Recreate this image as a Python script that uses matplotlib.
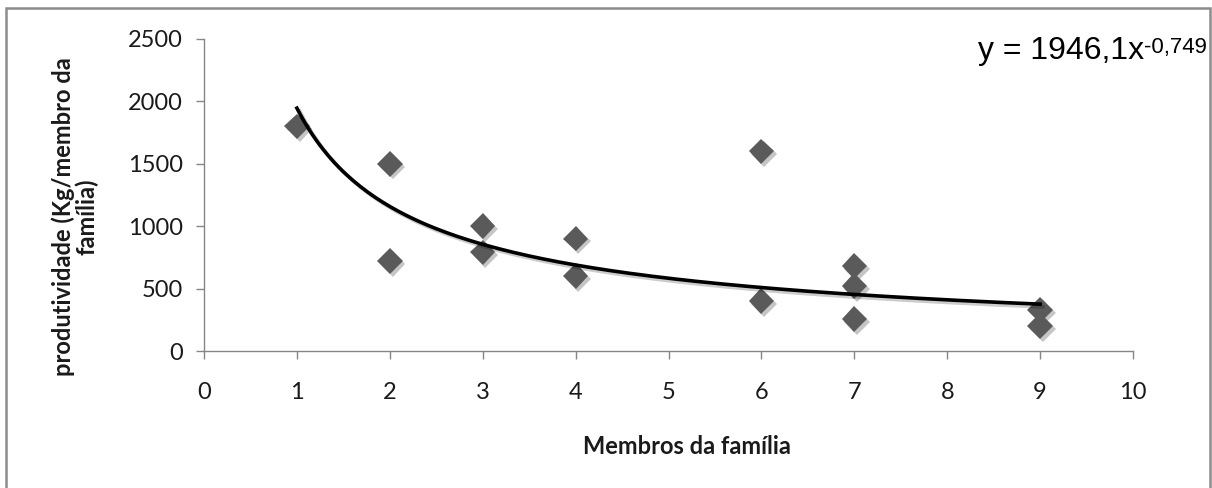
import numpy as np
import matplotlib.pyplot as plt
import matplotlib.patheffects as pe
from matplotlib.patches import Rectangle

# data
membros = [1, 2, 2, 3, 3, 4, 4, 6, 6, 7, 7, 7, 9, 9]
produtividade = [1800, 1500, 720, 1000, 790, 900, 600, 1600, 400, 680, 520, 255, 330, 200]

# power trendline shown on the chart: y = 1946,1 x^-0,749
coef_a = 1946.1
coef_b = -0.749
eq_main = "y = 1946,1x"
eq_sup = "-0,749"

x_ticks = [0, 1, 2, 3, 4, 5, 6, 7, 8, 9, 10]
y_ticks = [0, 500, 1000, 1500, 2000, 2500]

plt.rcParams['font.family'] = ['Lato', 'DejaVu Sans']

fig = plt.figure(figsize=(12.12, 4.88), dpi=100)
ax = fig.add_axes([204 / 1212, 137 / 488, 929 / 1212, 312 / 488])

# outer chart frame (bottom edge is cut off in the original)
fig.patches.append(Rectangle((6 / 1212, -0.05), 1204 / 1212, 1.05 - 8 / 488,
                             transform=fig.transFigure, fill=False,
                             edgecolor='#8c8c8c', linewidth=1.8))

shadow = [pe.SimplePatchShadow(offset=(2, -2), alpha=0.25), pe.Normal()]
ax.plot(membros, produtividade, linestyle='none', marker='D', markersize=13,
        color='#5a5a5a', markeredgewidth=0, path_effects=shadow, zorder=2)

xt = np.linspace(min(membros), max(membros), 200)
ax.plot(xt, coef_a * xt ** coef_b, color='black', linewidth=2.6,
        path_effects=[pe.SimpleLineShadow(offset=(2, -2), alpha=0.2), pe.Normal()],
        zorder=3)

ax.set_xlim(0, 10)
ax.set_ylim(0, 2500)
ax.set_xticks(x_ticks)
ax.set_yticks(y_ticks)

for side in ['top', 'right']:
    ax.spines[side].set_visible(False)
for side in ['left', 'bottom']:
    ax.spines[side].set_color('#868686')
    ax.spines[side].set_linewidth(1.0)
ax.tick_params(axis='both', direction='out', length=6, width=1.0,
               color='#868686', labelsize=17, labelcolor='#1a1a1a')
ax.tick_params(axis='x', pad=16)
ax.tick_params(axis='y', pad=9)

fig.text(687 / 1212, 1 - 447 / 488, "Membros da família", ha='center', va='center',
         fontsize=17, fontweight='bold', color='#1a1a1a')
fig.text(75 / 1212, 1 - 217 / 488, "produtividade (Kg/membro da\nfamília)",
         ha='center', va='center', rotation=90, fontsize=17, fontweight='bold',
         color='#1a1a1a', linespacing=1.0)

t = fig.text(978 / 1212, 1 - 59 / 488, eq_main, ha='left', va='baseline',
             fontsize=23, family='Liberation Sans', color='black')
ax.annotate(eq_sup, xy=(1.0, 0.98), xycoords=t, ha='left', va='top',
            fontsize=16, family='Liberation Sans', color='black')

fig.savefig('out.png', dpi=100)
